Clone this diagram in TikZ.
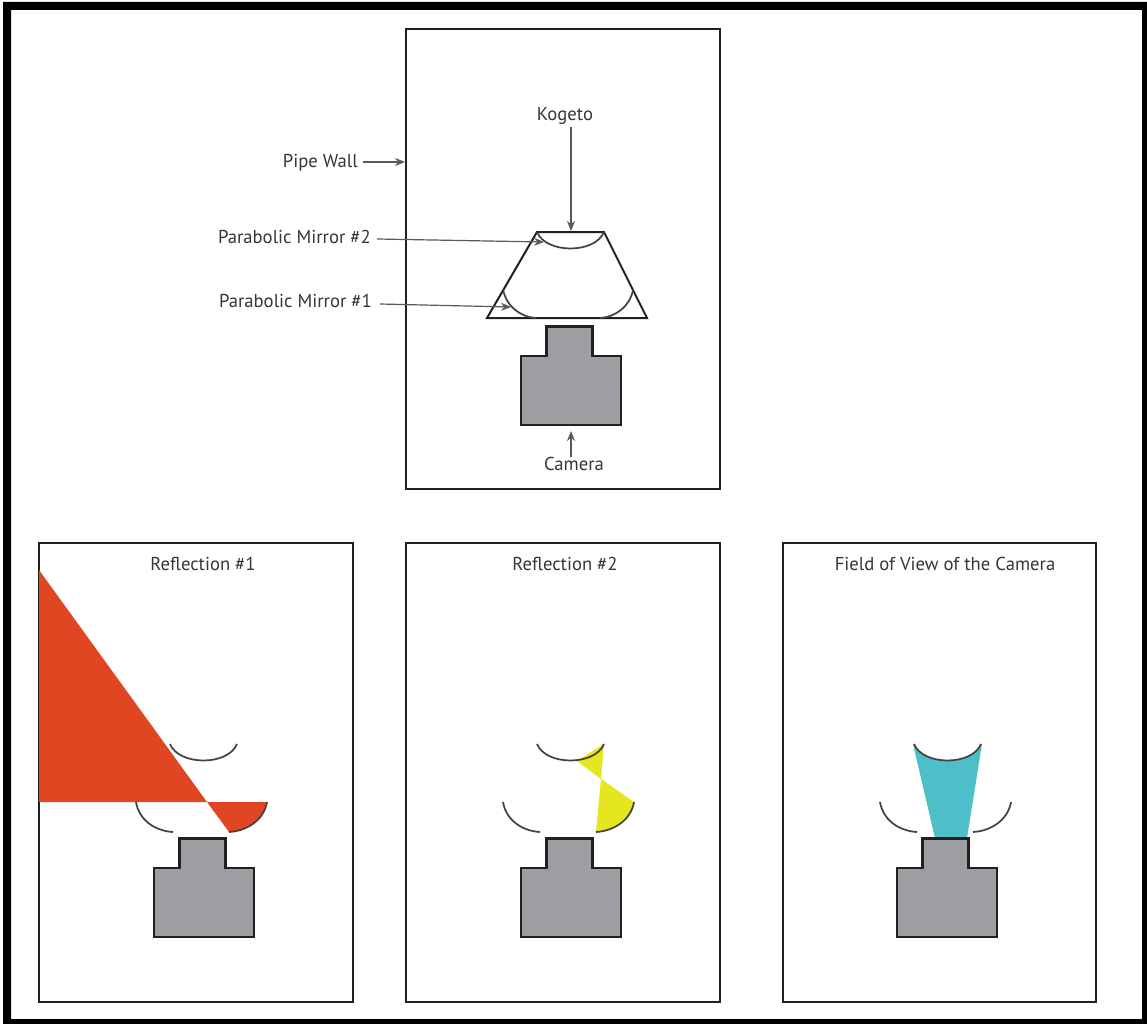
\documentclass[tikz,border=0pt]{standalone}
\usepackage{fontspec}
\setmainfont{PT Sans}
\definecolor{camgray}{HTML}{9D9EA2}
\definecolor{linek}{HTML}{231F20}
\definecolor{arrowg}{HTML}{58595B}
\definecolor{redfill}{HTML}{E04622}
\definecolor{yellowfill}{HTML}{E6E61E}
\definecolor{cyanfill}{HTML}{4DBFC8}
\usetikzlibrary{arrows.meta}
\tikzset{
  panel/.style={draw=linek,line width=1.9pt,fill=white},
  camerabody/.style={draw=linek,line width=1.9pt,fill=camgray,line join=miter},
  mirrorline/.style={draw=linek!85,line width=1.3pt},
  callout/.style={draw=arrowg,line width=0.9pt,-{Stealth[length=7.5pt,width=6pt]}},
  lbl/.style={text=linek!90,font=\fontsize{14}{16}\selectfont,inner sep=0pt}
}
\newcommand{\cameraat}[2]{%
  \path[camerabody] (#1+546.5,#2+326.5) -- (#1+592.5,#2+326.5) -- (#1+592.5,#2+356) -- (#1+621,#2+356)
    -- (#1+621,#2+425) -- (#1+521,#2+425) -- (#1+521,#2+356) -- (#1+546.5,#2+356) -- cycle;}
\newcommand{\mirrorsat}[2]{%
  \path[mirrorline] (#1+537,#2+232) .. controls (#1+546,#2+254) and (#1+595,#2+254) .. (#1+604,#2+232);
  \path[mirrorline] (#1+503,#2+290) .. controls (#1+506,#2+308) and (#1+522,#2+319) .. (#1+540,#2+320);
  \path[mirrorline] (#1+596,#2+320) .. controls (#1+614,#2+319) and (#1+631,#2+308) .. (#1+634,#2+290);}
\begin{document}
\begin{tikzpicture}[x=0.75pt,y=-0.75pt]
\useasboundingbox (0,0) rectangle (1147,1024);
\fill[white] (0,0) rectangle (1147,1024);
\fill[black,even odd rule] (3,2) rectangle (1147,1024) (11,10) rectangle (1142,1019);
% panels
\path[panel] (406,29) rectangle (720,489);
\path[panel] (39,543) rectangle (353,1002);
\path[panel] (406,543) rectangle (720,1002);
\path[panel] (783,543) rectangle (1096,1002);
% top panel
\draw[linek,line width=1.5pt,line join=miter] (537,232) -- (604,232) -- (647,318) -- (487,318) -- cycle;
\path[mirrorline] (537,232) .. controls (546,254) and (595,254) .. (604,232);
\path[mirrorline] (503,289) .. controls (506,306) and (520,317) .. (536,318);
\path[mirrorline] (600,318) .. controls (616,317) and (630,306) .. (633,290);
\cameraat{0}{0}
% labels
\node[lbl,anchor=center] (kogeto) at (565,116) {Kogeto};
\node[lbl,anchor=east] (pipewall) at (358,163) {Pipe Wall};
\node[lbl,anchor=east] (pm2) at (371,237) {Parabolic Mirror \#2};
\node[lbl,anchor=east] (pm1) at (372,301) {Parabolic Mirror \#1};
\node[lbl,anchor=center] (camera) at (574,464) {Camera};
\coordinate (kogetotail) at (571,127);
\coordinate (kogetotip) at (571,231);
\coordinate (pipetail) at (363,162);
\coordinate (pipetip) at (405,162);
\coordinate (pm2tail) at (377,239);
\coordinate (pm2tip) at (544,242);
\coordinate (pm1tail) at (380,304);
\coordinate (pm1tip) at (511,307);
\coordinate (camtail) at (571,457);
\coordinate (camtip) at (571,431);
\draw[callout] (kogetotail) -- (kogetotip);
\draw[callout] (pipetail) -- (pipetip);
\draw[callout] (pm2tail) -- (pm2tip);
\draw[callout] (pm1tail) -- (pm1tip);
\draw[callout] (camtail) -- (camtip);
% reflection 1
\fill[redfill] (39,570) -- (207,802) -- (39,802) -- cycle;
\fill[redfill] (207,802) -- (267,802) .. controls (264,820) and (247,831) .. (229,832) -- cycle;
\draw[linek,line width=1.9pt] (39,802) -- (39,1002);
\mirrorsat{-367}{512}
\cameraat{-367}{512}
\node[lbl] (title1) at (203,564) {Reflection \#1};
% reflection 2
\fill[yellowfill] (604,744) -- (577,761) .. controls (589,760) and (600,755) .. (604,744) -- cycle;
\fill[yellowfill] (604,744) -- (601,779) -- (577,761) -- cycle;
\fill[yellowfill] (601,779) -- (634,802) .. controls (631,820) and (614,831) .. (596,832) -- cycle;
\mirrorsat{0}{512}
\cameraat{0}{512}
\node[lbl] (title2) at (565,564) {Reflection \#2};
% field of view
\fill[cyanfill] (913,744) -- (914,745) .. controls (923,766) and (972,766) .. (981,745) -- (982,744) -- (967,838) -- (935,838) -- cycle;
\mirrorsat{377}{512}
\cameraat{376}{512}
\node[lbl] (title3) at (945,564) {Field of View of the Camera};
\end{tikzpicture}
\end{document}
